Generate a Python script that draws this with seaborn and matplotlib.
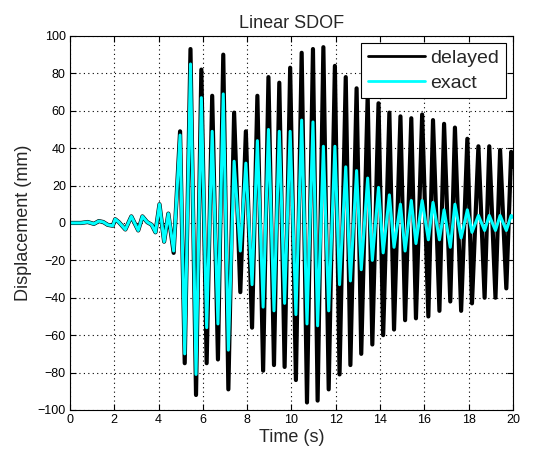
import matplotlib

matplotlib.use("Agg")
import matplotlib.pyplot as plt
import seaborn as sns

sns.set_theme(style="ticks")
plt.rcParams["font.family"] = ["Liberation Sans", "DejaVu Sans"]

# time (s) of each turning point
t_delayed = [
    0.0, 0.5, 0.8, 1.08, 1.3, 1.5, 1.7, 1.93, 2.04, 2.2, 2.5, 2.77, 3.08, 3.27,
    3.48, 3.69, 3.86, 4.04, 4.25, 4.44, 4.68,
    4.97, 5.18, 5.44, 5.69, 5.93, 6.17, 6.42, 6.68, 6.92, 7.15, 7.41, 7.69,
    7.94, 8.22, 8.46, 8.72, 8.96, 9.21, 9.45, 9.69, 9.94, 10.2, 10.46, 10.7,
    10.97, 11.18, 11.44, 11.68, 11.96, 12.17, 12.45, 12.66, 12.94, 13.15,
    13.44, 13.65, 13.93, 14.14, 14.42, 14.63, 14.92, 15.13, 15.41, 15.62,
    15.9, 16.18, 16.39, 16.68, 16.89, 17.17, 17.38, 17.66, 17.94, 18.15,
    18.44, 18.72, 18.93, 19.21, 19.42, 19.7, 19.92, 20.0,
]
# displacement (mm), delayed response
disp_delayed = [
    0, 0, 0.5, -0.5, 1, 0.5, -1, -1.5, 2, 0.5, -3.5, 3.5, -4, 3.5,
    0.5, -1, -5, 10, -10, 5, -16,
    49, -75, 93, -92, 82, -75, 68, -73, 90, -89, 59, -37,
    49, -56, 68, -79, 78, -76, 75, -77, 83, -84, 91, -96,
    93, -95, 94, -89, 84, -81, 78, -76, 72, -70,
    68, -65, 64, -60, 59, -57, 57, -52, 56, -51,
    58, -50, 55, -47, 53, -42, 51, -47, 45, -43,
    41, -40, 41, -40, 39, -35, 38, 30,
]

t_exact = [
    0.0, 0.5, 0.8, 1.08, 1.3, 1.5, 1.7, 1.93, 2.04, 2.2, 2.5, 2.77, 3.08, 3.27,
    3.48, 3.69, 3.86, 4.04, 4.25, 4.44, 4.68,
    4.97, 5.18, 5.44, 5.69, 5.93, 6.17, 6.42, 6.68, 6.92, 7.15, 7.41, 7.69,
    7.94, 8.22, 8.46, 8.72, 8.96, 9.21, 9.45, 9.69, 9.94, 10.2, 10.46, 10.7,
    10.97, 11.18, 11.44, 11.68, 11.96, 12.17, 12.45, 12.66, 12.94, 13.15,
    13.44, 13.65, 13.93, 14.14, 14.42, 14.63, 14.92, 15.13, 15.41, 15.62,
    15.9, 16.18, 16.39, 16.68, 16.89, 17.17, 17.38, 17.66, 17.94, 18.15,
    18.44, 18.72, 18.93, 19.21, 19.42, 19.7, 19.92, 20.0,
]
# displacement (mm), exact response
disp_exact = [
    0, 0, 0.5, -0.5, 1, 0.5, -1, -1.5, 2, 0.5, -3.5, 3.5, -4, 3.5,
    0.5, -1, -5, 10, -10, 5, -15,
    47, -70, 85, -81, 67, -56, 49, -54, 69, -68, 33, -15,
    32, -33, 44, -45, 50, -47, 49, -43, 49, -49, 55, -54,
    54, -55, 41, -47, 41, -33, 30, -31, 28, -25,
    24, -20, 19, -16, 15, -13, 10, -15, 12, -11,
    12, -9, 11, -9, 7, -13, 10, -8, 7, -5,
    4, -4, 4, -4, 4, -4, 4, 3,
]

x_ticks = list(range(0, 21, 2))
y_ticks = list(range(-100, 101, 20))

fig = plt.figure(figsize=(5.6, 4.55), dpi=100)
ax = fig.add_axes([0.125, 0.099, 0.791, 0.822])

sns.lineplot(x=t_delayed, y=disp_delayed, color="black", linewidth=3,
             label="delayed", estimator=None, sort=False, ax=ax)
sns.lineplot(x=t_exact, y=disp_exact, color="cyan", linewidth=2.2,
             label="exact", estimator=None, sort=False, ax=ax)

ax.set_xlim(0, 20)
ax.set_ylim(-100, 100)
ax.set_xticks(x_ticks)
ax.set_yticks(y_ticks)
ax.tick_params(direction="in", length=4, width=0.8, top=True, right=True,
               labelsize=9, colors="black", pad=3)
ax.grid(True, linestyle=(0, (1, 3)), color="black", linewidth=0.8)
for s in ax.spines.values():
    s.set_visible(True)
    s.set_color("black")
    s.set_linewidth(0.8)

ax.set_xlabel("Time (s)", fontsize=13, labelpad=2)
ax.set_ylabel("Displacement (mm)", fontsize=13, labelpad=4)
ax.set_title("Linear SDOF", fontsize=13, pad=6)

leg = ax.legend(loc="upper right", fontsize=14, frameon=True, fancybox=False,
                edgecolor="black", framealpha=1, handlelength=2.9,
                borderaxespad=0.35, borderpad=0.35, labelspacing=0.35,
                handletextpad=0.3)
leg.get_frame().set_linewidth(0.8)
for h in leg.get_lines():
    h.set_linewidth(2)

fig.savefig("out.png", dpi=100)
